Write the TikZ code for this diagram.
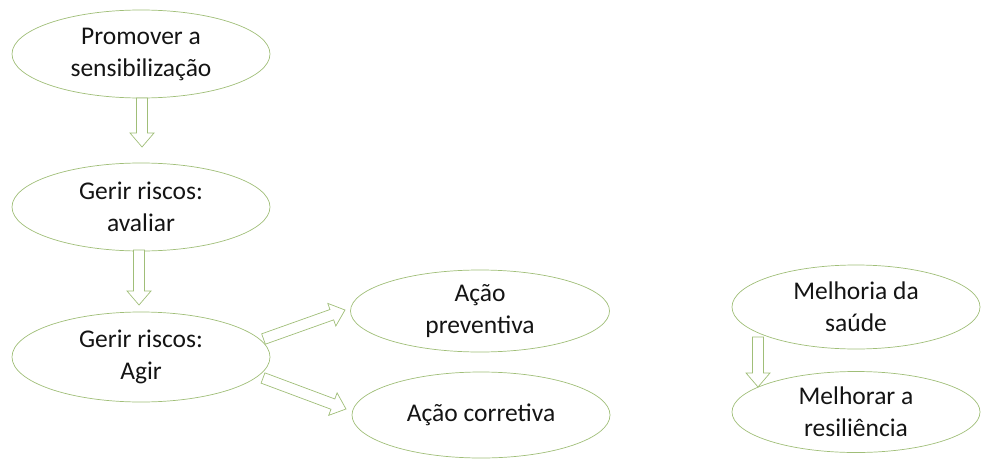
\documentclass[tikz,border=0pt]{standalone}
\usepackage{fontspec}
\setmainfont{Carlito}
\usetikzlibrary{shapes.geometric,calc}
\definecolor{edge}{RGB}{160,190,120}
\definecolor{ink}{RGB}{20,20,20}
\tikzset{
  oval/.style={ellipse, draw=edge, line width=0.7pt, inner sep=0pt, align=center,
    text=ink, font=\fontsize{25.5}{32}\selectfont},
  blk/.style={draw=edge, line width=0.7pt, fill=white, line join=miter}
}
% block arrow from #1 to #2 (named coordinates)
\newcommand\blockarrow[2]{%
  \draw[blk] ($(#1)!5.5pt!90:(#2)$) -- ($($(#2)!14pt!(#1)$)!5.5pt!-90:(#1)$)
    -- ($($(#2)!14pt!(#1)$)!12pt!-90:(#1)$) -- (#2)
    -- ($($(#2)!14pt!(#1)$)!12pt!90:(#1)$)
    -- ($($(#2)!14pt!(#1)$)!5.5pt!90:(#1)$) -- ($(#1)!5.5pt!-90:(#2)$) -- cycle;}
\begin{document}
\begin{tikzpicture}[x=1pt,y=-1pt]
\useasboundingbox (0,0) rectangle (981,460);
\node[oval, minimum width=258pt, minimum height=88pt] (e1) at (141,54) {Promover a\\sensibilização};
\node[oval, minimum width=258pt, minimum height=88pt] (e2) at (141,207) {Gerir riscos:\\avaliar};
\node[oval, minimum width=258pt, minimum height=90pt] (e3) at (141,357) {Gerir riscos:\\Agir};
\node[oval, minimum width=259pt, minimum height=82pt] (e4) at (480,311) {Ação\\preventiva};
\node[oval, minimum width=258pt, minimum height=86pt] (e5) at (481,415) {Ação corretiva};
\node[oval, minimum width=248pt, minimum height=84pt] (e6) at (856,307) {Melhoria da\\saúde};
\node[oval, minimum width=248pt, minimum height=81pt] (e7) at (856,412) {Melhorar a\\resiliência};
\coordinate (a1s) at (142,98);  \coordinate (a1t) at (142,147);
\coordinate (a2s) at (139,250); \coordinate (a2t) at (139,305);
\coordinate (a3s) at (263.5,339); \coordinate (a3t) at (345,310);
\coordinate (a4s) at (263,378); \coordinate (a4t) at (346,409);
\coordinate (a5s) at (758,337); \coordinate (a5t) at (758,387);
\blockarrow{a1s}{a1t}
\blockarrow{a2s}{a2t}
\blockarrow{a3s}{a3t}
\blockarrow{a4s}{a4t}
\blockarrow{a5s}{a5t}
\end{tikzpicture}
\end{document}
